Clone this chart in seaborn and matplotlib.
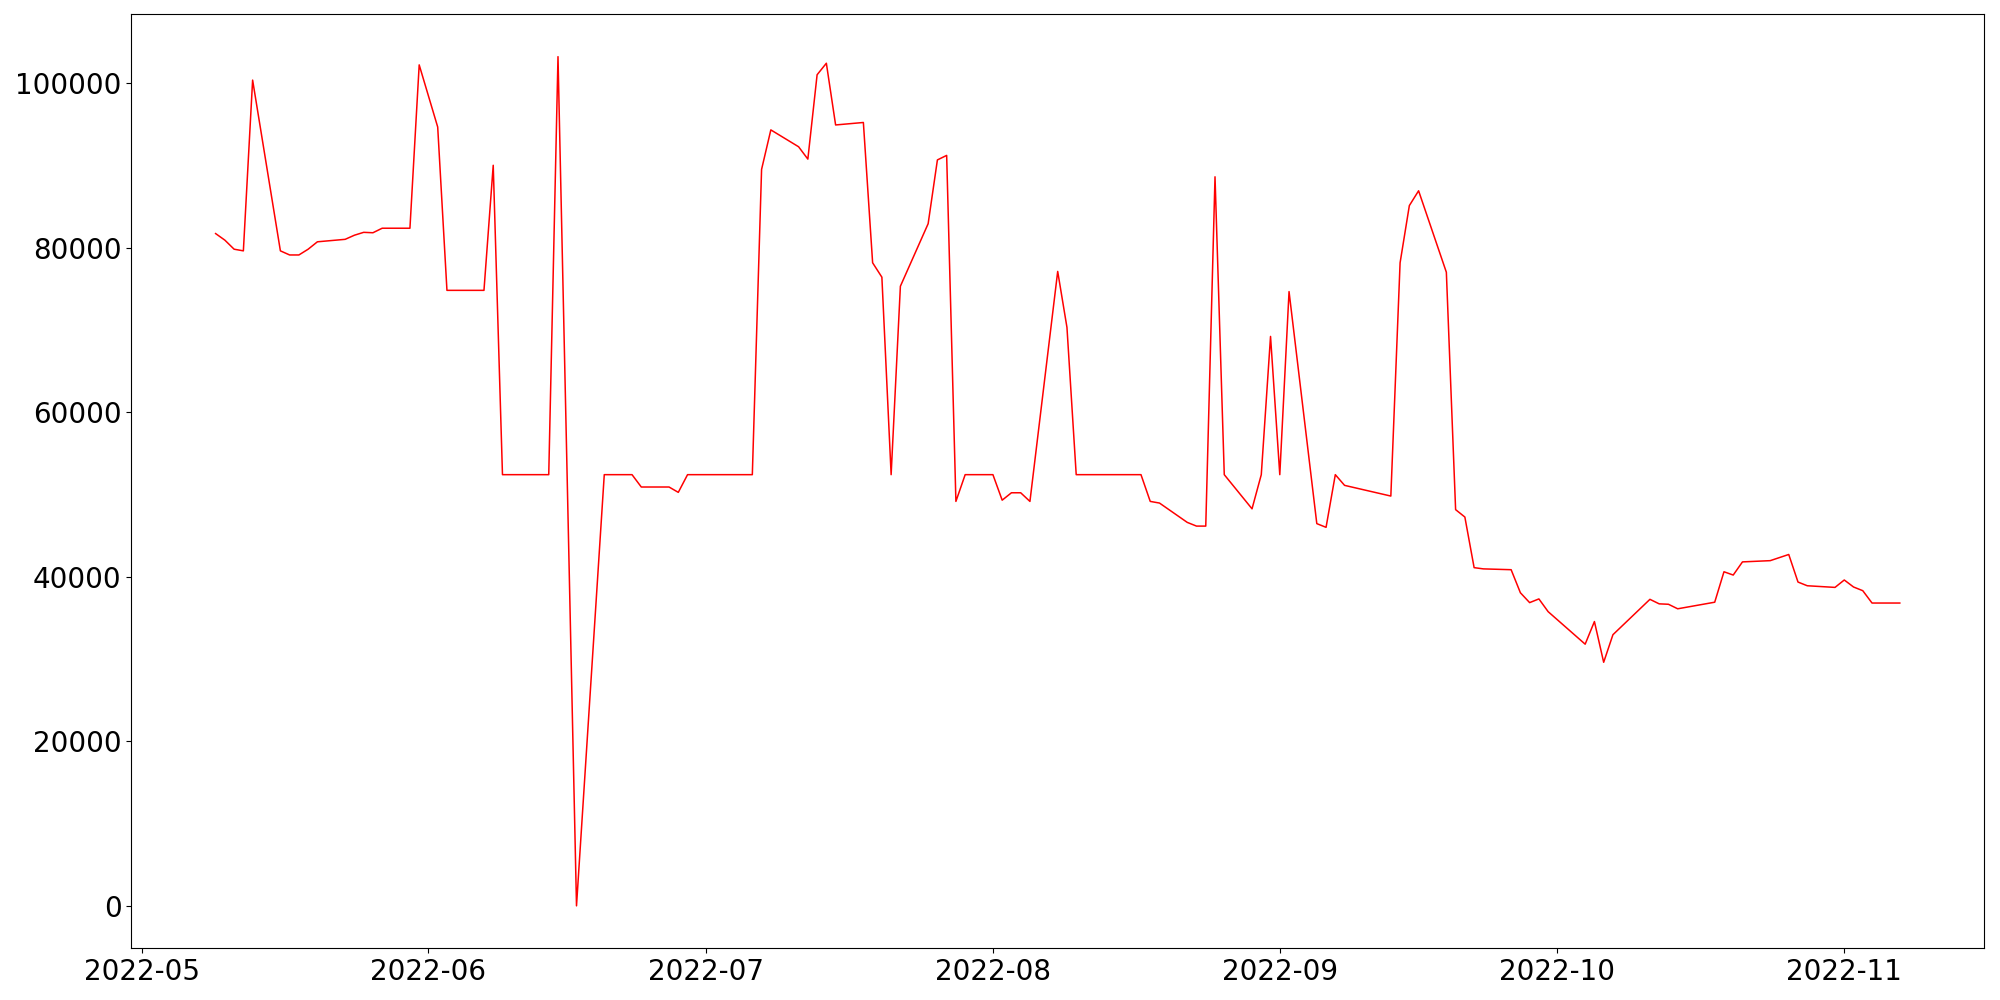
import matplotlib
matplotlib.use("Agg")
import matplotlib.pyplot as plt
import matplotlib.dates as mdates
import pandas as pd
import seaborn as sns

dates = [
    "2022-05-09", "2022-05-10", "2022-05-11", "2022-05-12", "2022-05-13",
    "2022-05-16", "2022-05-17", "2022-05-18", "2022-05-19", "2022-05-20",
    "2022-05-23", "2022-05-24", "2022-05-25", "2022-05-26", "2022-05-27",
    "2022-05-30", "2022-05-31", "2022-06-02", "2022-06-03",
    "2022-06-06", "2022-06-07", "2022-06-08", "2022-06-09", "2022-06-10",
    "2022-06-13", "2022-06-14", "2022-06-15", "2022-06-17",
    "2022-06-20", "2022-06-21", "2022-06-22", "2022-06-23", "2022-06-24",
    "2022-06-27", "2022-06-28", "2022-06-29", "2022-06-30", "2022-07-01",
    "2022-07-05", "2022-07-06", "2022-07-07", "2022-07-08",
    "2022-07-11", "2022-07-12", "2022-07-13", "2022-07-14", "2022-07-15",
    "2022-07-18", "2022-07-19", "2022-07-20", "2022-07-21", "2022-07-22",
    "2022-07-25", "2022-07-26", "2022-07-27", "2022-07-28", "2022-07-29",
    "2022-08-01", "2022-08-02", "2022-08-03", "2022-08-04", "2022-08-05",
    "2022-08-08", "2022-08-09", "2022-08-10", "2022-08-11", "2022-08-12",
    "2022-08-15", "2022-08-16", "2022-08-17", "2022-08-18", "2022-08-19",
    "2022-08-22", "2022-08-23", "2022-08-24", "2022-08-25", "2022-08-26",
    "2022-08-29", "2022-08-30", "2022-08-31", "2022-09-01", "2022-09-02",
    "2022-09-05", "2022-09-06", "2022-09-07", "2022-09-08",
    "2022-09-13", "2022-09-14", "2022-09-15", "2022-09-16",
    "2022-09-19", "2022-09-20", "2022-09-21", "2022-09-22", "2022-09-23",
    "2022-09-26", "2022-09-27", "2022-09-28", "2022-09-29", "2022-09-30",
    "2022-10-04", "2022-10-05", "2022-10-06", "2022-10-07",
    "2022-10-11", "2022-10-12", "2022-10-13", "2022-10-14",
    "2022-10-18", "2022-10-19", "2022-10-20", "2022-10-21",
    "2022-10-24", "2022-10-26", "2022-10-27", "2022-10-28",
    "2022-10-31", "2022-11-01", "2022-11-02", "2022-11-03", "2022-11-04",
    "2022-11-07",
]

values = [
    81700, 80900, 79800, 79600, 100350,
    79600, 79100, 79100, 79800, 80700,
    81000, 81500, 81850, 81800, 82350,
    82350, 102200, 94650, 74800,
    74800, 74800, 90000, 52400, 52400,
    52400, 52400, 103200, 0,
    52400, 52400, 52400, 52400, 50900,
    50900, 50250, 52400, 52400, 52400,
    52400, 52400, 89500, 94300,
    92250, 90750, 101000, 102400, 94900,
    95200, 78150, 76400, 52400, 75300,
    82900, 90650, 91200, 49150, 52400,
    52400, 49300, 50200, 50200, 49150,
    77100, 70300, 52400, 52400, 52400,
    52400, 52400, 52400, 49150, 48950,
    46600, 46150, 46150, 88600, 52400,
    48250, 52400, 69200, 52400, 74650,
    46450, 46000, 52400, 51100,
    49800, 78150, 85100, 86900,
    77000, 48150, 47250, 41100, 40950,
    40850, 38050, 36850, 37300, 35750,
    31800, 34550, 29600, 32950,
    37250, 36700, 36650, 36100,
    36900, 40600, 40200, 41800,
    41950, 42700, 39350, 38900,
    38700, 39600, 38750, 38300, 36800,
    36800,
]

df = pd.DataFrame({"date": pd.to_datetime(dates), "value": values})

fig, ax = plt.subplots(figsize=(20, 10), dpi=100)
fig.subplots_adjust(left=0.0657, right=0.992, top=0.9858, bottom=0.0517)

sns.lineplot(data=df, x="date", y="value", color="red", linewidth=1.1, ax=ax)

ax.set_xlabel("")
ax.set_ylabel("")
ax.xaxis.set_major_locator(mdates.MonthLocator())
ax.xaxis.set_major_formatter(mdates.DateFormatter("%Y-%m"))
ax.tick_params(axis="both", labelsize=20)

fig.savefig("out.png", dpi=100)
